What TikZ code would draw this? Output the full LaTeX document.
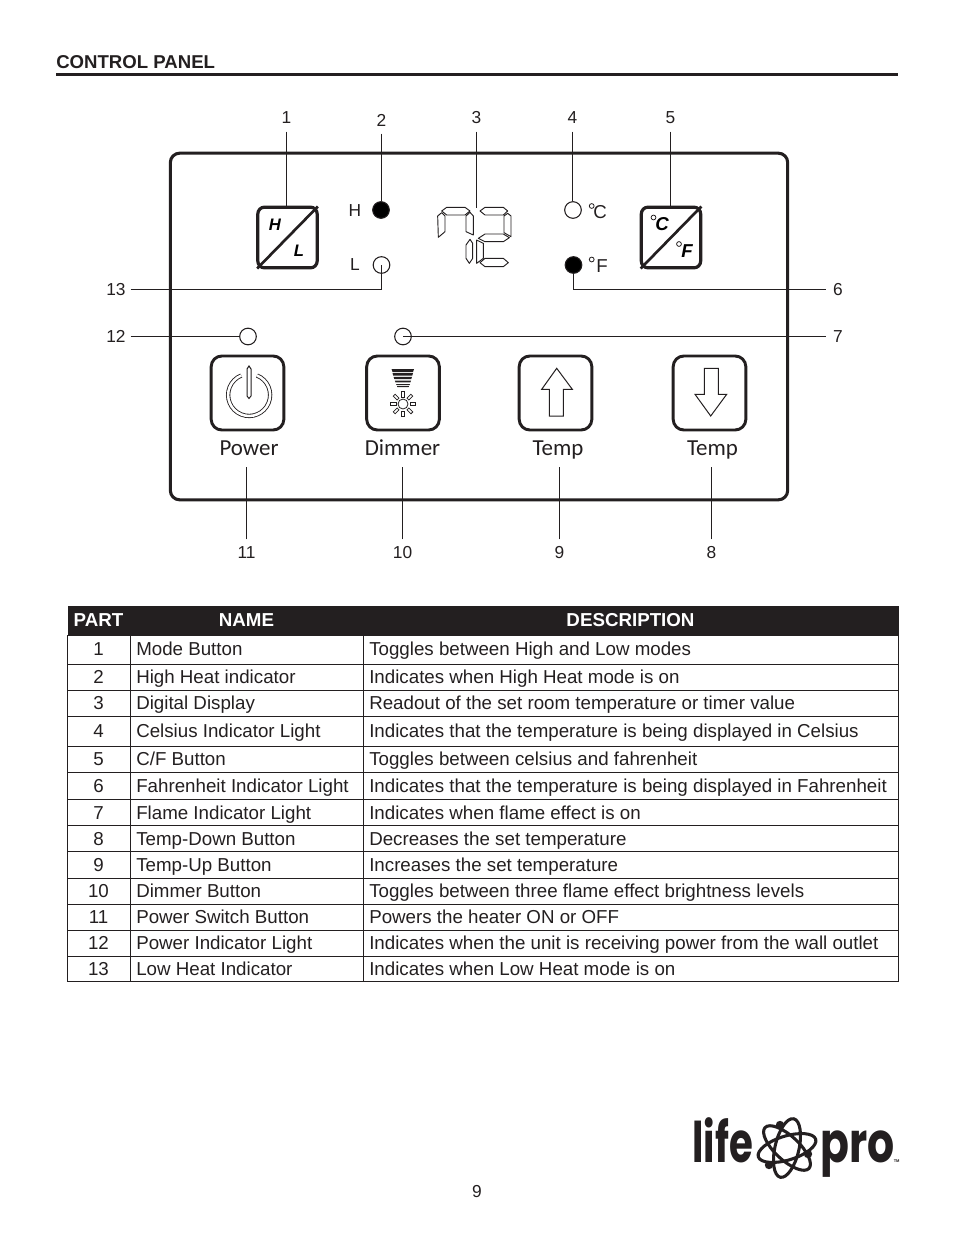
\documentclass[tikz,border=0pt]{standalone}
\usepackage{fontspec}
\setmainfont{Liberation Sans}
\newfontfamily\keyfont{Carlito}
\newfontfamily\logofont{Poppins}
\usetikzlibrary{positioning, calc}
\definecolor{inkdark}{HTML}{231F20}
\newcommand{\bodysize}{\fontsize{14.05}{17}\selectfont}
\newcommand{\numsize}{\fontsize{13}{15}\selectfont}
\tikzset{
    numlabel/.style={inner sep=5.5pt, font=\numsize, text=inkdark},
    leader/.style={line width=0.75pt, inkdark},
    smallbtn/.style={draw=inkdark, line width=2.4pt, rounded corners=5pt, minimum width=44.5pt, minimum height=45.5pt, inner sep=0pt},
    bigbtn/.style={draw=inkdark, line width=2.2pt, rounded corners=8pt, minimum width=54.5pt, minimum height=55.5pt, inner sep=0pt},
    ledoff/.style={draw=inkdark, circle, line width=0.8pt, minimum size=12.5pt, inner sep=0pt},
    ledon/.style={ledoff, fill=black},
    keylabel/.style={inner sep=0pt, outer ysep=5pt, text depth=3.5pt, anchor=base, font=\keyfont\fontsize{17.2}{20}\selectfont, text=inkdark},
    cell/.style={inner sep=0pt, anchor=base west, font=\bodysize, text=inkdark},
    partcell/.style={inner sep=0pt, anchor=base, font=\bodysize, text=inkdark},
    headcell/.style={inner sep=0pt, anchor=base, font=\bodysize\bfseries, text=white},
    gridline/.style={line width=0.75pt, inkdark},
    segment/.style={draw=inkdark, line width=0.7pt, fill=white, line join=round},
    outline/.style={draw=inkdark, line width=0.75pt, line join=miter},
    orbit/.style={draw=inkdark, line width=2.3pt},
    logotext/.style={inner sep=0pt, transform shape, font=\logofont\bfseries\fontsize{42}{44}\selectfont, text=inkdark},
}
\begin{document}
\begin{tikzpicture}[x=0.75pt, y=-0.75pt]
    \useasboundingbox (0,0) rectangle (954,1235);

    % Page heading
    \node[inner sep=0pt, anchor=base west, font=\fontsize{13.95}{15}\selectfont\bfseries, text=inkdark] (title) at (56,68.5) {CONTROL PANEL};
    \draw[line width=2.4pt, inkdark] (56,74.5) -- (898,74.5);

    % Panel outline
    \node[draw=inkdark, line width=2.3pt, rounded corners=7pt, minimum width=463pt, minimum height=260pt, inner sep=0pt] (panel) at (479,326.5) {};

    % Upper buttons
    \node[smallbtn] (modebtn) at (287.5,237.5) {};
    \draw[line width=2pt, inkdark, shorten <=1pt, shorten >=1pt] (modebtn.south west) -- (modebtn.north east);
    \node[inner sep=0pt, font=\fontsize{12.5}{14}\selectfont\bfseries\itshape] (hchar) at (275,224.5) {H};
    \node[inner sep=0pt, font=\fontsize{12.5}{14}\selectfont\bfseries\itshape] (lchar) at (299,251) {L};
    \node[smallbtn] (cfbtn) at (671,237.5) {};
    \draw[line width=2pt, inkdark, shorten <=1pt, shorten >=1pt] (cfbtn.south west) -- (cfbtn.north east);
    \node[inner sep=0pt, font=\fontsize{14}{14}\selectfont\bfseries\itshape] (cchar) at (662,224.5) {C};
    \node[inner sep=0pt, font=\fontsize{14}{14}\selectfont\bfseries\itshape] (fchar) at (687,251) {F};
    \draw[line width=0.6pt, inkdark] (653.5,217.5) circle (2.4);
    \draw[line width=0.6pt, inkdark] (679,244) circle (2.4);

    % Indicator lights
    \node[ledon] (hled) at (381,210) {};
    \node[ledoff] (lled) at (381.5,265) {};
    \node[ledoff] (cled) at (573,210) {};
    \node[ledon] (fled) at (573.5,265) {};
    \node[ledoff] (powerled) at (248,336.5) {};
    \node[ledoff] (flameled) at (403,336.5) {};
    \node[inner sep=0pt, font=\numsize, text=inkdark] (hmark) at (355,211) {H};
    \node[inner sep=0pt, font=\numsize, text=inkdark] (lmark) at (355,265) {L};
    \node[inner sep=0pt, font=\fontsize{14}{15}\selectfont, text=inkdark] (cmark) at (600,212.5) {C};
    \node[inner sep=0pt, font=\fontsize{14}{15}\selectfont, text=inkdark] (fmark) at (602,266.5) {F};
    \draw[line width=0.6pt, inkdark] (591.7,206) circle (2.4);
    \draw[line width=0.6pt, inkdark] (591.7,259.5) circle (2.4);

    % Display digits
    \begin{scope}[shift={(230,190)}, x=0.25pt, y=-0.25pt]
        \draw[segment] (635,63) -- (650,52) -- (705,52) -- (720,63) -- (705,75) -- (650,75) -- cycle;
        \draw[segment] (623,78) -- (635,68) -- (645,78) -- (645,125) -- (625,142) -- cycle;
        \draw[segment] (708,78) -- (720,67) -- (730,78) -- (730,135) -- (708,125) -- cycle;
        \draw[segment] (708,165) -- (720,148) -- (728,160) -- (728,205) -- (718,220) -- (708,205) -- cycle;
        \draw[segment] (750,63) -- (765,52) -- (820,52) -- (833,63) -- (820,75) -- (765,75) -- cycle;
        \draw[segment] (822,78) -- (833,70) -- (843,78) -- (843,140) -- (822,128) -- cycle;
        \draw[segment] (745,145) -- (765,132) -- (820,132) -- (838,143) -- (820,155) -- (765,155) -- cycle;
        \draw[segment] (740,150) -- (760,160) -- (760,205) -- (740,220) -- cycle;
        \draw[segment] (750,218) -- (765,205) -- (820,205) -- (835,218) -- (820,230) -- (765,230) -- cycle;
    \end{scope}
    \coordinate (display) at (476.5,208);

    % Lower buttons
    \node[bigbtn] (powerbtn) at (247.5,393) {};
    \node[bigbtn] (dimmerbtn) at (403,393) {};
    \node[bigbtn] (upbtn) at (555.5,393) {};
    \node[bigbtn] (downbtn) at (709.5,393) {};
    \node[keylabel] (powertxt) at (249,455.5) {Power};
    \node[keylabel] (dimmertxt) at (402.5,455.5) {Dimmer};
    \node[keylabel] (uptxt) at (558,455.5) {Temp};
    \node[keylabel] (downtxt) at (712.5,455.5) {Temp};

    % Power symbol
    \draw[inkdark, line width=3.2pt] (257,375.5) arc (-68:248:21);
    \draw[white, line width=1.9pt] (257,375.5) arc (-68:248:21);
    \draw[outline, fill=white] (249,366) -- (251,369) -- (251,396) -- (249,398.5) -- (247,396) -- (247,369) -- cycle;

    % Dimmer symbol
    \fill[inkdark] (391.5,369) -- (414,369) -- (413,372) -- (392.5,372) -- cycle;
    \fill[inkdark] (392.5,373) -- (413,373) -- (412.3,375.5) -- (393.2,375.5) -- cycle;
    \fill[inkdark] (393.5,376.8) -- (412,376.8) -- (411.3,379) -- (394.3,379) -- cycle;
    \fill[inkdark] (394.8,380.5) -- (411,380.5) -- (410.4,382.3) -- (395.5,382.3) -- cycle;
    \fill[inkdark] (396,384) -- (410,384) -- (409.5,385.2) -- (396.6,385.2) -- cycle;
    \fill[inkdark] (397,386.2) -- (409,386.2) -- (408.6,387.2) -- (397.4,387.2) -- cycle;
    \draw[line width=0.6pt, inkdark] (403,404) circle (5);
    \foreach \ang in {0,45,...,315}
        \draw[line width=0.6pt, inkdark, rotate around={\ang:(403,404)}] (410,402.7) rectangle (415.5,405.3);

    % Arrow symbols
    \draw[outline] (556.7,368.3) -- (572.3,389.3) -- (563.3,389.3) -- (563.3,416) -- (549.3,416) -- (549.3,389.3) -- (541.7,389.3) -- cycle;
    \draw[outline] (710.7,416) -- (726.7,394.3) -- (718.3,394.3) -- (718.3,368.3) -- (704.3,368.3) -- (704.3,394.3) -- (695,394.3) -- cycle;

    % Number labels
    \node[numlabel] (n1) at (286.5,118) {1};
    \node[numlabel] (n2) at (381.5,120) {2};
    \node[numlabel] (n3) at (476.5,118) {3};
    \node[numlabel] (n4) at (572.5,118) {4};
    \node[numlabel] (n5) at (670.5,118) {5};
    \node[numlabel] (n6) at (838,289.5) {6};
    \node[numlabel] (n7) at (838,336.5) {7};
    \node[numlabel] (n8) at (711.5,553) {8};
    \node[numlabel] (n9) at (559.5,553) {9};
    \node[numlabel] (n10) at (402.5,553) {10};
    \node[numlabel] (n11) at (246.5,553) {11};
    \node[numlabel, inner xsep=3.5pt] (n12) at (116,336.5) {12};
    \node[numlabel, inner xsep=3.5pt] (n13) at (116,289.5) {13};

    % Leader lines
    \draw[leader] (n1.south) -- (n1.south |- modebtn.north);
    \draw[leader] (n2.south) -- (n2.south |- hled.north);
    \draw[leader] (n3.south) -- (display);
    \draw[leader] (n4.south) -- (n4.south |- cled.north);
    \draw[leader] (n5.south) -- (n5.south |- cfbtn.north);
    \draw[leader] (fled.south) |- (n6.west);
    \draw[leader] (flameled.center) -- (n7.west);
    \draw[leader] (n8.north) -- (n8.north |- downtxt.south);
    \draw[leader] (n9.north) -- (n9.north |- uptxt.south);
    \draw[leader] (n10.north) -- (n10.north |- dimmertxt.south);
    \draw[leader] (n11.north) -- (n11.north |- powertxt.south);
    \draw[leader] (n12.east) -- (powerled.west);
    \draw[leader] (n13.east) -| (lled.center);

    % Table
    \fill[inkdark] (67.5,606) rectangle (898.5,635);
    \node[headcell] (headpart) at (98.5,626.5) {PART};
    \node[headcell] (headname) at (246.5,626.5) {NAME};
    \node[headcell] (headdesc) at (630.5,626.5) {DESCRIPTION};
    \draw[gridline] (67.5,635) rectangle (898.5,981.5);
    \draw[gridline] (130.5,635) -- (130.5,981.5);
    \draw[gridline] (363.5,635) -- (363.5,981.5);
    \foreach \liney in {664,690,716,746,772,799,825,851,878,904,930,956}
        \draw[gridline] (67.5,\liney) -- (898.5,\liney);
    \foreach \rowy/\part/\partname/\desc in {
        655/1/Mode Button/Toggles between High and Low modes,
        683/2/High Heat indicator/Indicates when High Heat mode is on,
        709/3/Digital Display/Readout of the set room temperature or timer value,
        737/4/Celsius Indicator Light/Indicates that the temperature is being displayed in Celsius,
        765/5/{C/F Button}/Toggles between celsius and fahrenheit,
        792/6/Fahrenheit Indicator Light/Indicates that the temperature is being displayed in Fahrenheit,
        819/7/Flame Indicator Light/Indicates when flame effect is on,
        845/8/Temp-Down Button/Decreases the set temperature,
        871/9/Temp-Up Button/Increases the set temperature,
        897/10/Dimmer Button/Toggles between three flame effect brightness levels,
        923/11/Power Switch Button/Powers the heater ON or OFF,
        949/12/Power Indicator Light/Indicates when the unit is receiving power from the wall outlet,
        975/13/Low Heat Indicator/Indicates when Low Heat mode is on}
    {
        \node[partcell] (part\part) at (98.5,\rowy) {\part};
        \node[cell] (name\part) at (136,\rowy) {\partname};
        \node[cell] (desc\part) at (369,\rowy) {\desc};
    }

    % Logo
    \node[logotext, xscale=0.69, anchor=base east] (lifetxt) at (753,1162) {life};
    \node[logotext, xscale=0.76, anchor=base west] (protxt) at (820,1162) {pro};
    \node[inner sep=0pt, anchor=base west, font=\fontsize{3}{4}\selectfont\bfseries, text=inkdark] (tmmark) at (893.5,1162) {TM};
    \foreach \ang in {77,17,137}
        \draw[orbit, rotate around={\ang:(787,1148)}] (787,1148) ellipse (30 and 12);
    \fill[inkdark] (780,1125) circle (4.2) (808,1154) circle (4.2) (769,1165) circle (4.2);

    % Page number
    \node[inner sep=0pt, font=\numsize, text=inkdark] (pagenum) at (477,1192) {9};
\end{tikzpicture}
\end{document}
